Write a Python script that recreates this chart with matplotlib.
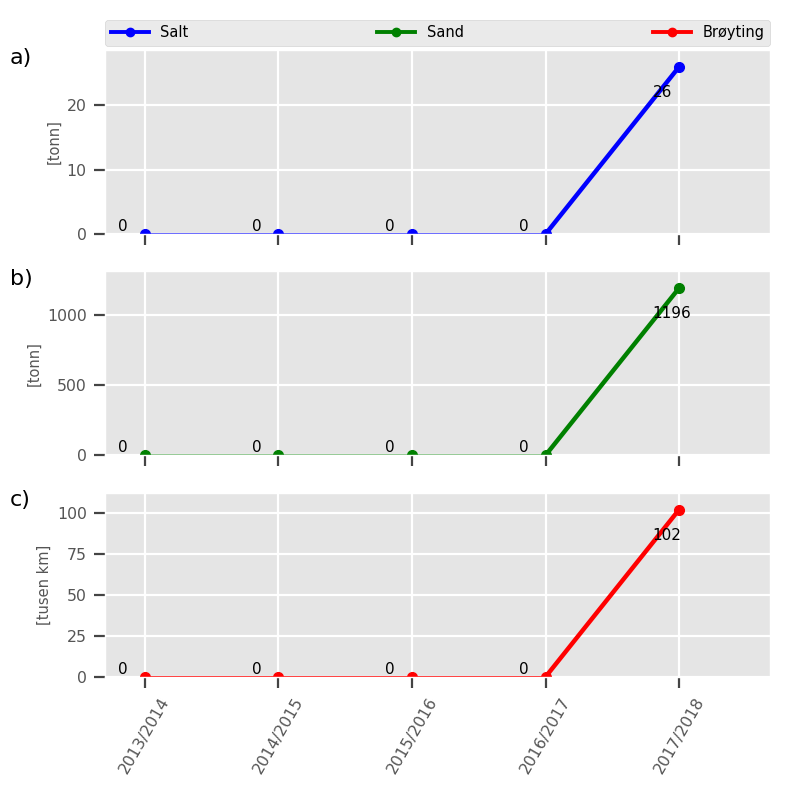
import numpy as np
import matplotlib.pyplot as plt

plt.style.use('ggplot')

sesonger = ['2013/2014', '2014/2015', '2015/2016', '2016/2017', '2017/2018']
salt = [0, 0, 0, 0, 26]
sand = [0, 0, 0, 0, 1196]
broyting = [0, 0, 0, 0, 102]

serier = [salt, sand, broyting]
navn = ['Salt', 'Sand', 'Brøyting']
farger = ['blue', 'green', 'red']
ylabels = ['[tonn]', '[tonn]', '[tusen km]']
bokstaver = ['a)', 'b)', 'c)']
yticks = [[0, 10, 20], [0, 500, 1000], [0, 25, 50, 75, 100]]

fig = plt.figure(figsize=(8, 8), dpi=100)
bunner = [0.7075, 0.431, 0.154]
x = np.arange(len(sesonger))

akser = []
for k in range(3):
    ax = fig.add_axes([0.131, bunner[k], 0.8315, 0.23])
    akser.append(ax)
    v = serier[k]
    ax.plot(x, v, color=farger[k], lw=1.0, marker='o', ms=7, label=navn[k],
            clip_on=True)
    ax.plot(x[-2:], v[-2:], color=farger[k], lw=3.2)
    for i in range(len(v)):
        ax.text(x[i] - 0.2, v[i] * 0.8, str(v[i]), ha='left', va='bottom',
                fontsize=11, color='black')
    ax.set_xlim(-0.3, 4.68)
    ax.set_ylim(0, max(v) * 1.1)
    ax.set_xticks(x)
    ax.set_yticks(yticks[k])
    ax.grid(True, color='white', lw=1.6)
    ax.set_ylabel(ylabels[k], fontsize=10.5, color='#555555', labelpad=4)
    ax.tick_params(labelsize=11.3, length=8, width=1.6, color='#444444', pad=5)
    if k < 2:
        ax.set_xticklabels([])
    else:
        ax.set_xticklabels(sesonger, rotation=60)
    fig.text(0.012, bunner[k] + 0.213, bokstaver[k], fontsize=16, color='black')

hl = []
for k in range(3):
    hl.append(plt.Line2D([], [], color=farger[k], lw=2.8, marker='o', ms=6))
akser[0].legend(hl, navn, loc='lower left', bbox_to_anchor=(0, 1.02, 1, 0.1),
                ncol=3, mode='expand', borderaxespad=0, fontsize=10.5,
                handlelength=2.6)

fig.savefig('out.png', dpi=100)
